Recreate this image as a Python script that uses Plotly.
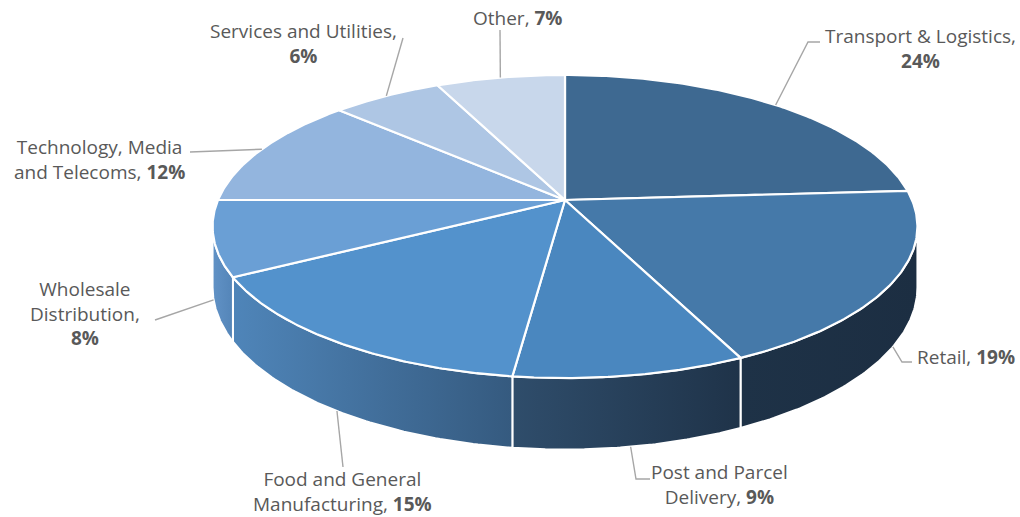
import numpy as np
import plotly.graph_objects as go

# ---------------- data ----------------
categories = ["Transport & Logistics", "Retail", "Post and Parcel Delivery",
              "Food and General Manufacturing", "Wholesale Distribution",
              "Technology, Media and Telecoms", "Services and Utilities", "Other"]
values = [24, 19, 9, 15, 8, 12, 6, 7]
label_names = ["Transport & Logistics,<br>", "Retail, ", "Post and Parcel<br>Delivery, ",
               "Food and General<br>Manufacturing, ", "Wholesale<br>Distribution,<br>",
               "Technology, Media<br>and Telecoms, ", "Services and Utilities,<br>", "Other, "]

# ---------------- style ----------------
top_colors = ["#3e6991", "#4579a9", "#4a87bf", "#5392cc", "#6a9fd5",
              "#93b5de", "#aec6e4", "#c8d7eb"]
side_colors = [("#2a4866", "#1e3247"), ("#1e3247", "#1c2e42"), ("#2f4d6b", "#1f3349"),
               ("#4f85b9", "#355a7f"), ("#6192c6", "#5485b8"), ("#6192c6", "#5485b8"),
               ("#6192c6", "#5485b8"), ("#6192c6", "#5485b8")]

# geometry of the projected 3D pie (pixel space)
CX, CY = 565.0, 200.0
RX, RY = 347.0, 146.9
K = 0.175          # perspective strength
H = 59.0           # thickness

# label placement (annotation centres) and leader elbows
label_pos = [(920, 48), (915, 357), (719, 484), (342, 491), (85, 313),
             (99, 159), (303, 43), (517, 18)]
label_anchor = ["center", "left", "center", "center", "center", "center", "center", "center"]
leader_path = [[(808, 42), (820, 42)], [(902, 362), (912, 362)], [(636, 479), (650, 479)],
               [(343, 467)], [(155, 320)], [(190, 152)], [(403, 38)], [(500, 30)]]


def proj(theta_deg):
    t = np.radians(theta_deg)
    s = 1.0 / (1.0 + K * np.cos(t))
    x = CX + RX * np.sin(t) * s
    y = CY - RY * np.cos(t) * s
    return x, y, s


vis_lo = np.degrees(np.arccos(-K))
vis_hi = 360.0 - vis_lo

total = float(sum(values))
cum = np.concatenate([[0.0], np.cumsum(values)]) / total * 360.0

fig = go.Figure()

# side walls
for i in range(len(values)):
    a0, a1 = cum[i], cum[i + 1]
    lo, hi = max(a0, vis_lo), min(a1, vis_hi)
    if hi <= lo:
        continue
    th = np.linspace(lo, hi, 80)
    x, y, s = proj(th)
    yb = y + H * s
    xs = np.concatenate([x, x[::-1], [x[0]]])
    ys = np.concatenate([y, yb[::-1], [y[0]]])
    c0, c1 = side_colors[i]
    fig.add_trace(go.Scatter(
        x=xs, y=ys, mode="lines", fill="toself",
        fillgradient=dict(type="horizontal", colorscale=[[0, c0], [1, c1]]),
        line=dict(color="white", width=2), hoverinfo="skip", showlegend=False))

# top faces
for i in range(len(values)):
    a0, a1 = cum[i], cum[i + 1]
    th = np.linspace(a0, a1, 120)
    x, y, _ = proj(th)
    xs = np.concatenate([[CX], x, [CX]])
    ys = np.concatenate([[CY], y, [CY]])
    fig.add_trace(go.Scatter(
        x=xs, y=ys, mode="lines", fill="toself", fillcolor=top_colors[i],
        line=dict(color="white", width=2.2), hoverinfo="skip", showlegend=False,
        name=categories[i]))

# leader lines and labels
for i in range(len(values)):
    mid = (cum[i] + cum[i + 1]) / 2.0
    x, y, s = proj(mid)
    if vis_lo <= mid <= vis_hi:
        y = y + H * s
    pts = [(float(x), float(y))] + leader_path[i]
    fig.add_trace(go.Scatter(
        x=[p[0] for p in pts], y=[p[1] for p in pts], mode="lines",
        line=dict(color="#a6a6a6", width=1.4), hoverinfo="skip", showlegend=False))
    lx, ly = label_pos[i]
    fig.add_annotation(
        x=lx, y=ly, xref="x", yref="y", showarrow=False,
        text=f"{label_names[i]}<b>{values[i]}%</b>",
        xanchor=label_anchor[i], yanchor="middle", align="center",
        font=dict(family="Open Sans", size=19, color="#595959"))

fig.update_layout(
    width=1020, height=517, margin=dict(l=0, r=0, t=0, b=0),
    paper_bgcolor="white", plot_bgcolor="white",
    xaxis=dict(range=[0, 1020], visible=False, fixedrange=True),
    yaxis=dict(range=[517, 0], visible=False, fixedrange=True),
)

fig.write_html("out.html", config={"displayModeBar": False},
               post_script="document.body.style.margin='0px';")
